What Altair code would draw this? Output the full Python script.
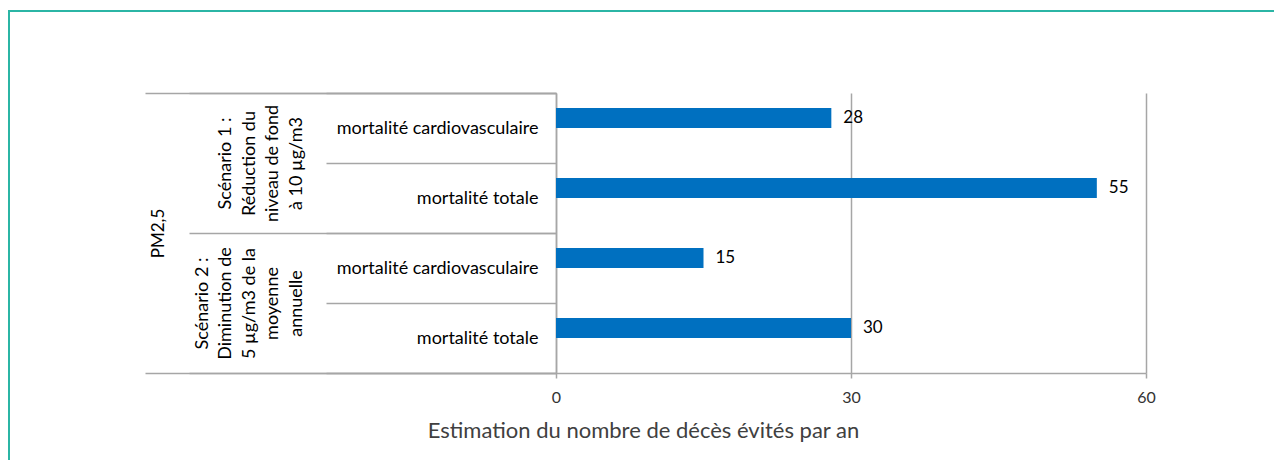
import altair as alt
import pandas as pd

# ---- data ----
pollutant = "PM2,5"
scenario_lines = [
    ["Scénario 1 :", "Réduction du", "niveau de fond", "à 10 µg/m3"],
    ["Scénario 2 :", "Diminution de", "5 µg/m3 de la", "moyenne", "annuelle"],
]
outcomes = ["mortalité cardiovasculaire", "mortalité totale"]
values = [28, 55, 15, 30]
x_ticks = [0, 30, 60]
x_title = "Estimation du nombre de décès évités par an"

scen_keys = ["|".join(l) for l in scenario_lines]
n_max = max(len(l) for l in scenario_lines)
rows, row_scen, row_out = [], [], []
for i, s in enumerate(scen_keys):
    for o in outcomes:
        rows.append(f"{i}|{o}")
        row_scen.append(s)
        row_out.append(o)

df = pd.DataFrame({"row": rows, "scenario": row_scen, "outcome": row_out, "value": values})
df_scen = pd.DataFrame({"scenario": scen_keys})
df_pm = pd.DataFrame({"pollutant": [pollutant]})

GRAY = "#a6a6a6"
TEAL = "#2bb5a5"
BLUE = "#0070C0"
FONT = "Lato"
band0 = alt.Scale(paddingInner=0, paddingOuter=0)

y_row = alt.Y(
    "row:N", sort=rows, scale=band0,
    axis=alt.Axis(
        orient="left", title=None, labelExpr="split(datum.label, '|')[1]",
        labelFont=FONT, labelFontSize=18, labelColor="#000000",
        labelAlign="right", labelBaseline="middle", labelPadding=-212,
        labelLimit=0, labelOverlap=False,
        ticks=True, tickBand="extent", tickSize=230, tickColor=GRAY, tickWidth=1.5,
        domain=True, domainColor=GRAY, domainWidth=1.5, grid=False,
    ),
)

x_enc = alt.X(
    "value:Q", scale=alt.Scale(domain=[0, 60], nice=False),
    axis=alt.Axis(
        values=x_ticks, title=x_title, grid=True, gridColor=GRAY, gridWidth=1.5,
        domainColor=GRAY, domainWidth=1.5, tickColor=GRAY, tickSize=5, tickWidth=1.5,
        labelFont=FONT, labelFontSize=16, labelColor="#333333", labelPadding=11,
        labelFlush=False,
        titleFont=FONT, titleFontSize=22, titleFontWeight="normal", titleColor="#404040",
        titleX=87, titleY=64, titleBaseline="alphabetic", titleAlign="center",
    ),
)

base = alt.Chart(df).encode(x=x_enc, y=y_row)
bars = base.mark_bar(size=20, yOffset=-10, color=BLUE)
labels = base.mark_text(align="left", baseline="middle", dx=12, yOffset=-10,
                        font=FONT, fontSize=17, color="#000000").encode(text="value:Q")
inner = alt.layer(bars, labels)

# pad shorter label blocks with leading empty lines so that last lines align
scen_label_expr = (
    f"split(slice('{'|' * n_max}', 0, {n_max} - length(split(datum.label, '|'))) "
    "+ datum.label, '|')"
)

scen = alt.Chart(df_scen).mark_point(opacity=0).encode(
    y=alt.Y("scenario:N", sort=scen_keys, scale=band0,
            axis=alt.Axis(orient="left", title=None, labelExpr=scen_label_expr,
                          labelAngle=270, labelAlign="center", labelBaseline="bottom",
                          labelLineHeight=23.5, labelPadding=-22, labelLimit=0,
                          labelOverlap=False, labelFont=FONT, labelFontSize=18,
                          labelColor="#000000",
                          ticks=True, tickBand="extent", tickSize=367, tickColor=GRAY,
                          tickWidth=1.5, domain=False, grid=False))
)

pm = alt.Chart(df_pm).mark_point(opacity=0).encode(
    y=alt.Y("pollutant:N", scale=band0,
            axis=alt.Axis(orient="left", title=None, labelAngle=270, labelAlign="center",
                          labelBaseline="middle", labelPadding=-13, labelLimit=0,
                          labelOverlap=False, labelFont=FONT, labelFontSize=17,
                          labelColor="#000000",
                          ticks=True, tickBand="extent", tickSize=411, tickColor=GRAY,
                          tickWidth=1.5, domain=False, grid=False))
)

frame = alt.Chart(df_pm).mark_rect(fillOpacity=0, stroke=TEAL, strokeWidth=2).encode(
    x=alt.value(-547), x2=alt.value(760), y=alt.value(-82), y2=alt.value(400)
)

chart = (
    alt.layer(inner, scen, pm, frame)
    .resolve_scale(y="independent")
    .properties(width=590, height=280, autosize=alt.AutoSizeParams(type="none"),
                padding={"left": 548, "top": 85, "right": 128, "bottom": 87})
    .configure_view(stroke="transparent")
)

chart.save("out.html", embed_options={"renderer": "svg", "actions": False})
